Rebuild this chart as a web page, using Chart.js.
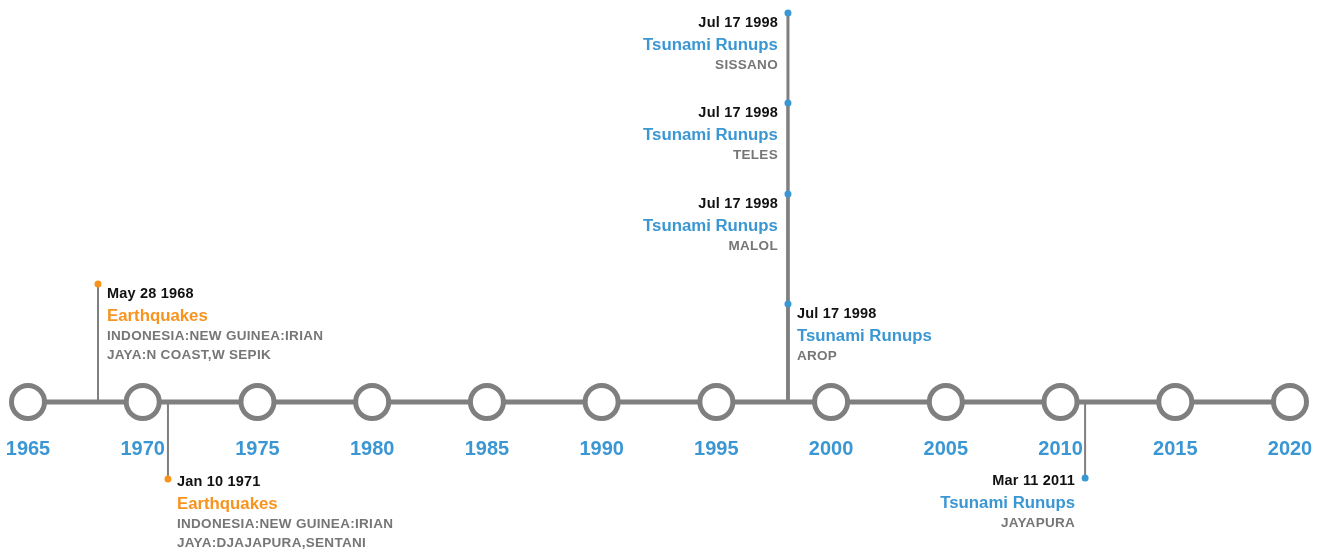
<!DOCTYPE html>
<html>
<head>
<meta charset="utf-8">
<script src="https://cdn.jsdelivr.net/npm/chart.js@4"></script>
<style>
  html, body { margin: 0; padding: 0; background: #fff; }
  #wrap { width: 1325px; height: 556px; }
</style>
</head>
<body>
<div id="wrap"><canvas id="timeline" width="1325" height="556"></canvas></div>
<script>
// Ticks on the time axis
const tickYears = [1965, 1970, 1975, 1980, 1985, 1990, 1995, 2000, 2005, 2010, 2015, 2020];

// Events
const eventYears = [1968.05, 1971.1, 1998.12, 1998.12, 1998.12, 1998.12, 2011.07];
const eventDates = ['May 28 1968', 'Jan 10 1971', 'Jul 17 1998', 'Jul 17 1998', 'Jul 17 1998', 'Jul 17 1998', 'Mar 11 2011'];
const eventTypes = ['Earthquakes', 'Earthquakes', 'Tsunami Runups', 'Tsunami Runups', 'Tsunami Runups', 'Tsunami Runups', 'Tsunami Runups'];
const eventPlaces = [
    'INDONESIA:NEW GUINEA:IRIAN JAYA:N COAST,W SEPIK',
    'INDONESIA:NEW GUINEA:IRIAN JAYA:DJAJAPURA,SENTANI',
    'AROP', 'MALOL', 'TELES', 'SISSANO',
    'JAYAPURA'
];

// layout only: stem height above (+) or below (-) the axis, and side of the text
const stemHeights = [118, -77, 98, 208, 299, 389, -76];
const textSides = ['right', 'right', 'right', 'left', 'left', 'left', 'left'];

const typeColors = { 'Earthquakes': '#f7941f', 'Tsunami Runups': '#3b97d3' };
const GRAY = '#7f7f7f';
const FONT = '"Liberation Sans", Arial, sans-serif';

function wrapText(ctx, text, maxWidth) {
    const words = text.split(' ');
    const lines = [];
    let line = '';
    words.forEach(w => {
        const test = line ? line + ' ' + w : w;
        if (ctx.measureText(test).width > maxWidth && line) {
            lines.push(line);
            line = w;
        } else {
            line = test;
        }
    });
    if (line) lines.push(line);
    return lines;
}

const labelsPlugin = {
    id: 'timelineLabels',
    afterDatasetsDraw(chart) {
        const ctx = chart.ctx;
        const xs = chart.scales.x;
        const ys = chart.scales.y;
        ctx.save();
        ctx.textBaseline = 'middle';

        // year labels under the circles
        ctx.font = 'bold 20px ' + FONT;
        ctx.fillStyle = '#3b97d3';
        ctx.textAlign = 'center';
        tickYears.forEach(yr => {
            ctx.fillText(String(yr), xs.getPixelForValue(yr), ys.getPixelForValue(0) + 47);
        });

        // event texts
        eventYears.forEach((yr, i) => {
            const px = xs.getPixelForValue(yr);
            const py = ys.getPixelForValue(stemHeights[i]);
            const above = stemHeights[i] > 0;
            const side = textSides[i];
            const tx = side === 'right' ? px + 9 : px - 10;
            ctx.textAlign = side === 'right' ? 'left' : 'right';
            let y = above ? py + 10 : py + 3;

            ctx.font = 'bold 14.5px ' + FONT;
            ctx.letterSpacing = '0.2px';
            ctx.fillStyle = '#111';
            ctx.fillText(eventDates[i], tx, y);

            y += 22;
            ctx.font = 'bold 16.8px ' + FONT;
            ctx.letterSpacing = '0px';
            ctx.fillStyle = typeColors[eventTypes[i]];
            ctx.fillText(eventTypes[i], tx, y);

            y += 20;
            ctx.font = 'bold 13.5px ' + FONT;
            ctx.letterSpacing = '0.3px';
            ctx.fillStyle = '#767676';
            wrapText(ctx, eventPlaces[i], 232).forEach(line => {
                ctx.fillText(line, tx, y);
                y += 19;
            });
        });
        ctx.restore();
    }
};

const datasets = [];

// stems (a shared date gets a heavier stem, as the stacked ones overlap)
eventYears.forEach((yr, i) => {
    const shared = eventYears.filter(v => v === yr).length > 1;
    datasets.push({
        type: 'line',
        data: [{ x: yr, y: 0 }, { x: yr, y: stemHeights[i] }],
        borderColor: GRAY,
        borderWidth: shared ? 3 : 2,
        pointRadius: 0,
        clip: false,
        order: 5
    });
});

// main axis line
datasets.push({
    type: 'line',
    data: [{ x: tickYears[0], y: 0 }, { x: tickYears[tickYears.length - 1], y: 0 }],
    borderColor: GRAY,
    borderWidth: 5,
    pointRadius: 0,
    clip: false,
    order: 4
});

// tick circles
datasets.push({
    type: 'scatter',
    data: tickYears.map(yr => ({ x: yr, y: 0 })),
    pointRadius: 16.5,
    pointBorderWidth: 5,
    pointBackgroundColor: '#fff',
    pointBorderColor: GRAY,
    clip: false,
    order: 3
});

// event dots
datasets.push({
    type: 'scatter',
    data: eventYears.map((yr, i) => ({ x: yr, y: stemHeights[i] })),
    pointRadius: 3.5,
    pointBorderWidth: 0,
    pointBackgroundColor: eventTypes.map(t => typeColors[t]),
    clip: false,
    order: 2
});

new Chart(document.getElementById('timeline'), {
    type: 'scatter',
    data: { datasets },
    options: {
        responsive: false,
        animation: false,
        layout: { autoPadding: false, padding: { left: 28, right: 35, top: 0, bottom: 0 } },
        plugins: {
            legend: { display: false },
            tooltip: { enabled: false }
        },
        scales: {
            x: { type: 'linear', min: 1965, max: 2020, display: false },
            y: { type: 'linear', min: -154, max: 402, display: false }
        }
    },
    plugins: [labelsPlugin]
});
</script>
</body>
</html>
